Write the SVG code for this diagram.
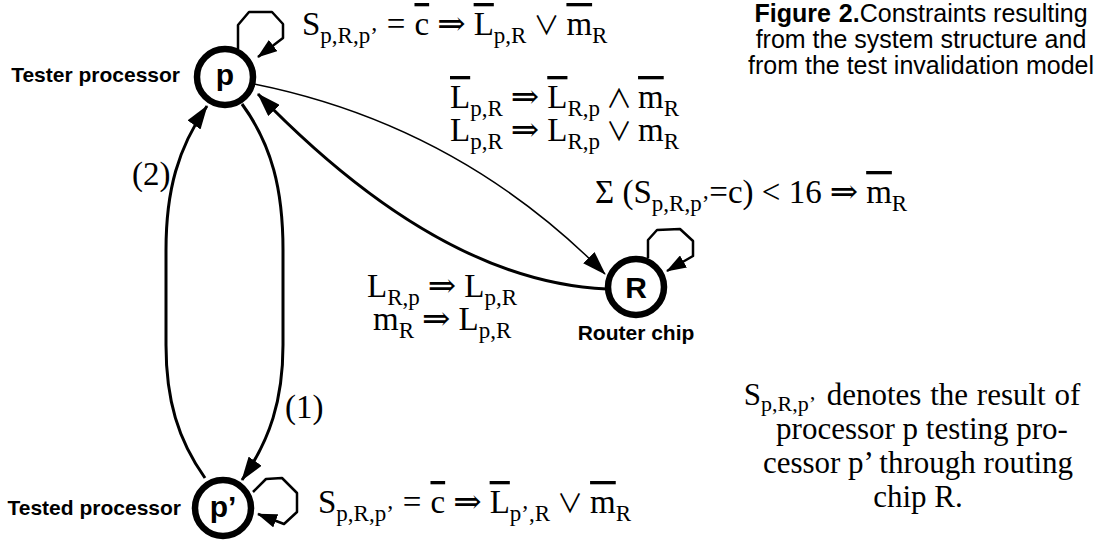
<svg xmlns="http://www.w3.org/2000/svg" width="1109" height="544" viewBox="0 0 1109 544">
<defs>
<marker id="ah" viewBox="0 0 24 16" refX="23" refY="8" markerWidth="24" markerHeight="16" markerUnits="userSpaceOnUse" orient="auto"><path d="M0,0 L24,8 L0,16 z" fill="#000"/></marker>
<marker id="ahs" viewBox="0 0 20 14" refX="19" refY="7" markerWidth="20" markerHeight="14" markerUnits="userSpaceOnUse" orient="auto"><path d="M0,0 L20,7 L0,14 z" fill="#000"/></marker>
<style>
.node circle{fill:#fff;stroke:#000;stroke-width:6.5}
.nl{font-family:"Liberation Sans",Arial,sans-serif;font-weight:bold;font-size:30px;text-anchor:middle}
.lab{font-family:"Liberation Sans",Arial,sans-serif;font-weight:bold;font-size:21px}
.m{font-family:"Liberation Serif","DejaVu Serif",serif;font-size:33px}
.s{font-size:23px}
.ov{text-decoration:overline}
.ar{font-family:"DejaVu Serif",serif;font-size:34px}
.lg{font-family:"Noto Sans CJK JP","DejaVu Serif",serif;font-size:26px}
.e{fill:none;stroke:#000}
.thick{stroke-width:3}
.thin{stroke-width:1.5}
.loop{stroke-width:2.5;stroke-linejoin:round}
.cap{font-family:"Liberation Sans",Arial,sans-serif;font-size:25px;text-anchor:middle}
.rt{font-family:"Liberation Serif","DejaVu Serif",serif;font-size:31px;text-anchor:middle}
.rs{font-size:22px}
</style>
</defs>
<rect width="1109" height="544" fill="#fff"/>
<g id="connectors">
<path class="e thick" d="M 242 104 C 272 145 283 190 283 250 L 283 345 C 283 400 270 440 242 480" marker-end="url(#ah)"/>
<path class="e thick" d="M 205 478 C 178 440 166 400 166 345 L 166 250 C 166 190 178 148 207 106" marker-end="url(#ah)"/>
<path class="e thin" d="M 254 84 Q 458 125 605 274" marker-end="url(#ah)"/>
<path class="e thick" d="M 607 289 Q 440 282 258 94" marker-end="url(#ah)"/>
<path class="e loop" d="M 238 49 L 238 25 L 249 12 L 272 12 L 283 24 L 283 38 L 258 57" marker-end="url(#ahs)"/>
<path class="e loop" d="M 648 258 L 648 240 L 657 230 L 680 229 L 693 241 L 693 256 L 667 271" marker-end="url(#ahs)"/>
<path class="e loop" d="M 253 492 L 266 479 L 282 478 L 297 493 L 297 512 L 284 524 L 258 514" marker-end="url(#ahs)"/>
</g>
<g id="node-p" class="node">
<circle cx="225" cy="77" r="28"/>
<text class="nl" x="225" y="85">p</text>
<text class="lab" x="180" y="82" text-anchor="end">Tester processor</text>
</g>
<g id="node-R" class="node">
<circle cx="636" cy="287" r="28"/>
<text class="nl" x="636" y="298">R</text>
<text class="lab" x="636" y="340" text-anchor="middle">Router chip</text>
</g>
<g id="node-pp" class="node">
<circle cx="223" cy="508" r="28"/>
<text class="nl" x="223" y="517">p’</text>
<text class="lab" x="181" y="515" text-anchor="end">Tested processor</text>
</g>
<g id="labels">
<text class="m" x="302" y="35">S<tspan class="s" dy="8">p,R,p’</tspan><tspan dy="-8" dx="9">=</tspan><tspan class="ov" dx="9">c</tspan><tspan class="ar" dx="8">⇒</tspan><tspan class="ov" dx="8">L</tspan><tspan class="s" dy="8">p,R</tspan><tspan class="lg" dy="-8" dx="7">∨</tspan><tspan class="ov" dx="7">m</tspan><tspan class="s" dy="8">R</tspan></text>
<text class="m" x="450" y="108"><tspan class="ov">L</tspan><tspan class="s" dy="8">p,R</tspan><tspan class="ar" dy="-8" dx="8">⇒</tspan><tspan class="ov" dx="8">L</tspan><tspan class="s" dy="8">R,p</tspan><tspan class="lg" dy="-8" dx="6">∧</tspan><tspan class="ov" dx="6">m</tspan><tspan class="s" dy="8">R</tspan></text>
<text class="m" x="450" y="141">L<tspan class="s" dy="8">p,R</tspan><tspan class="ar" dy="-8" dx="8">⇒</tspan><tspan dx="8">L</tspan><tspan class="s" dy="8">R,p</tspan><tspan class="lg" dy="-8" dx="6">∨</tspan><tspan dx="6">m</tspan><tspan class="s" dy="8">R</tspan></text>
<text class="m" x="595" y="203">Σ (S<tspan class="s" dy="8">p,R,p’</tspan><tspan dy="-8">=c) &lt; 16</tspan><tspan class="ar" dx="8">⇒</tspan><tspan class="ov" dx="8">m</tspan><tspan class="s" dy="8">R</tspan></text>
<text class="m" x="367" y="297">L<tspan class="s" dy="8">R,p</tspan><tspan class="ar" dy="-8" dx="8">⇒</tspan><tspan dx="8">L</tspan><tspan class="s" dy="8">p,R</tspan></text>
<text class="m" x="373" y="330">m<tspan class="s" dy="8">R</tspan><tspan class="ar" dy="-8" dx="8">⇒</tspan><tspan dx="8">L</tspan><tspan class="s" dy="8">p,R</tspan></text>
<text class="m" x="318" y="513">S<tspan class="s" dy="8">p,R,p’</tspan><tspan dy="-8" dx="9">=</tspan><tspan class="ov" dx="9">c</tspan><tspan class="ar" dx="8">⇒</tspan><tspan class="ov" dx="8">L</tspan><tspan class="s" dy="8">p’,R</tspan><tspan class="lg" dy="-8" dx="7">∨</tspan><tspan class="ov" dx="7">m</tspan><tspan class="s" dy="8">R</tspan></text>
<text class="m" x="285" y="418">(1)</text>
<text class="m" x="132" y="185">(2)</text>
</g>
<g id="caption">
<text class="cap" x="921" y="22"><tspan font-weight="bold">Figure</tspan><tspan font-weight="bold" dx="8">2.</tspan>Constraints resulting</text>
<text class="cap" x="921" y="48">from the system structure and</text>
<text class="cap" x="921" y="74">from the test invalidation model</text>
</g>
<g id="note">
<text class="rt" x="912" y="405" word-spacing="1">S<tspan class="rs" dy="6">p,R,p’</tspan><tspan dy="-6" dx="2"> denotes the result of</tspan></text>
<text class="rt" x="922" y="439">processor p testing pro-</text>
<text class="rt" x="918" y="473">cessor p’ through routing</text>
<text class="rt" x="918" y="507">chip R.</text>
</g>
</svg>
